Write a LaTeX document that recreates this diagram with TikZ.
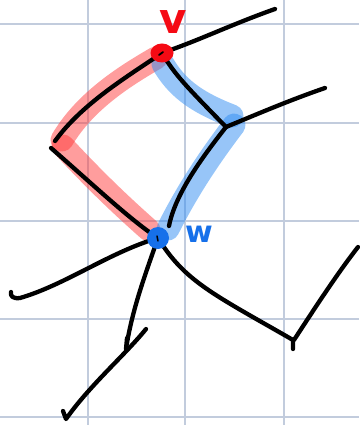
\documentclass[tikz,border=0pt]{standalone}
\usepackage{fontspec}
\setsansfont{DejaVu Sans}
\usetikzlibrary{shapes.geometric}
\definecolor{gridc}{HTML}{C2CCDD}
\definecolor{hlred}{HTML}{FF3B3B}
\definecolor{hlblue}{HTML}{2F8CF2}
\definecolor{dotred}{HTML}{F50A14}
\definecolor{dotblue}{HTML}{1670EA}
\tikzset{
  gridline/.style={draw=gridc, line width=1.2pt},
  pen/.style={draw=black, line width=4.3pt, line cap=round, line join=round},
  redhl/.style={draw=hlred, line width=23pt, line cap=round, line join=round, opacity=0.5},
  bluehl/.style={draw=hlblue, line width=23pt, line cap=round, line join=round, opacity=0.5},
  vtx/.style={inner sep=0pt, minimum size=0pt},
  lbl/.style={font=\sffamily\bfseries, inner sep=0pt, anchor=base}
}
\begin{document}
\begin{tikzpicture}[x=1pt, y=-1pt]
\useasboundingbox (0,0) rectangle (359,425);
% grid
\foreach \gx in {88,185,284} \draw[gridline] (\gx,0) -- (\gx,425);
\foreach \gy in {24,123,221,319,417} \draw[gridline] (0,\gy) -- (359,\gy);

% named points
\coordinate (v) at (162,53);
\coordinate (L) at (55,141);
\coordinate (L2) at (51,148);
\coordinate (R) at (226,127);
\coordinate (w) at (158,238);
\coordinate (ur1) at (275,9);
\coordinate (ur2) at (325,88);
\coordinate (lft) at (11,292);
\coordinate (dn1) at (126,349);
\coordinate (dn2s) at (146,329);
\coordinate (dn2) at (63,411);
\coordinate (rb) at (293,349);
\coordinate (rt) at (358,247);

% highlights
\draw[redhl] (156,58) .. controls (125,76) and (85,101) .. (62,140);
\draw[redhl] (63,146) .. controls (90,175) and (115,200) .. (149,230);
\draw[bluehl] (163,64) .. controls (176,86) and (193,101) .. (232,116);
\draw[bluehl] (234,125) .. controls (215,150) and (190,185) .. (168,229);

% black strokes
\draw[pen] (v) .. controls (125,78) and (82,104) .. (L);
\draw[pen] (L2) .. controls (90,182) and (125,215) .. (152,234);
\draw[pen] (v) .. controls (200,40) and (230,25) .. (ur1);
\draw[pen] (v) .. controls (175,75) and (185,85) .. (R);
\draw[pen] (R) .. controls (255,115) and (290,100) .. (ur2);
\draw[pen] (R) .. controls (200,160) and (175,195) .. (169,226);
\draw[pen] (w) .. controls (110,252) and (65,285) .. (20,298) .. controls (13,299) and (10,296) .. (lft);
\draw[pen] (w) .. controls (145,275) and (132,310) .. (dn1) -- (127,338);
\draw[pen] (dn2s) .. controls (125,355) and (90,385) .. (66,419) -- (dn2);
\draw[pen] (w) .. controls (185,282) and (215,295) .. (293,340) -- (rb);
\draw[pen] (294,340) .. controls (320,300) and (340,270) .. (rt);

% vertices
\node[vtx, ellipse, fill=dotred, minimum width=23pt, minimum height=19pt] (vd) at (v) {};
\draw[black, line width=1.8pt, line cap=round] (159,55) -- (163,52);
\node[vtx, circle, fill=dotblue, minimum size=22pt] (wd) at (w) {};
\draw[black, line width=1.5pt, line cap=round] (157,236) -- (158,241);

% labels
\node[lbl, text=dotred, font=\sffamily\bfseries\fontsize{42}{42}\selectfont] (vl) at (173,34) {v};
\node[lbl, text=dotblue, font=\sffamily\bfseries\fontsize{30}{30}\selectfont] (wl) at (199,242) {w};
\end{tikzpicture}
\end{document}
